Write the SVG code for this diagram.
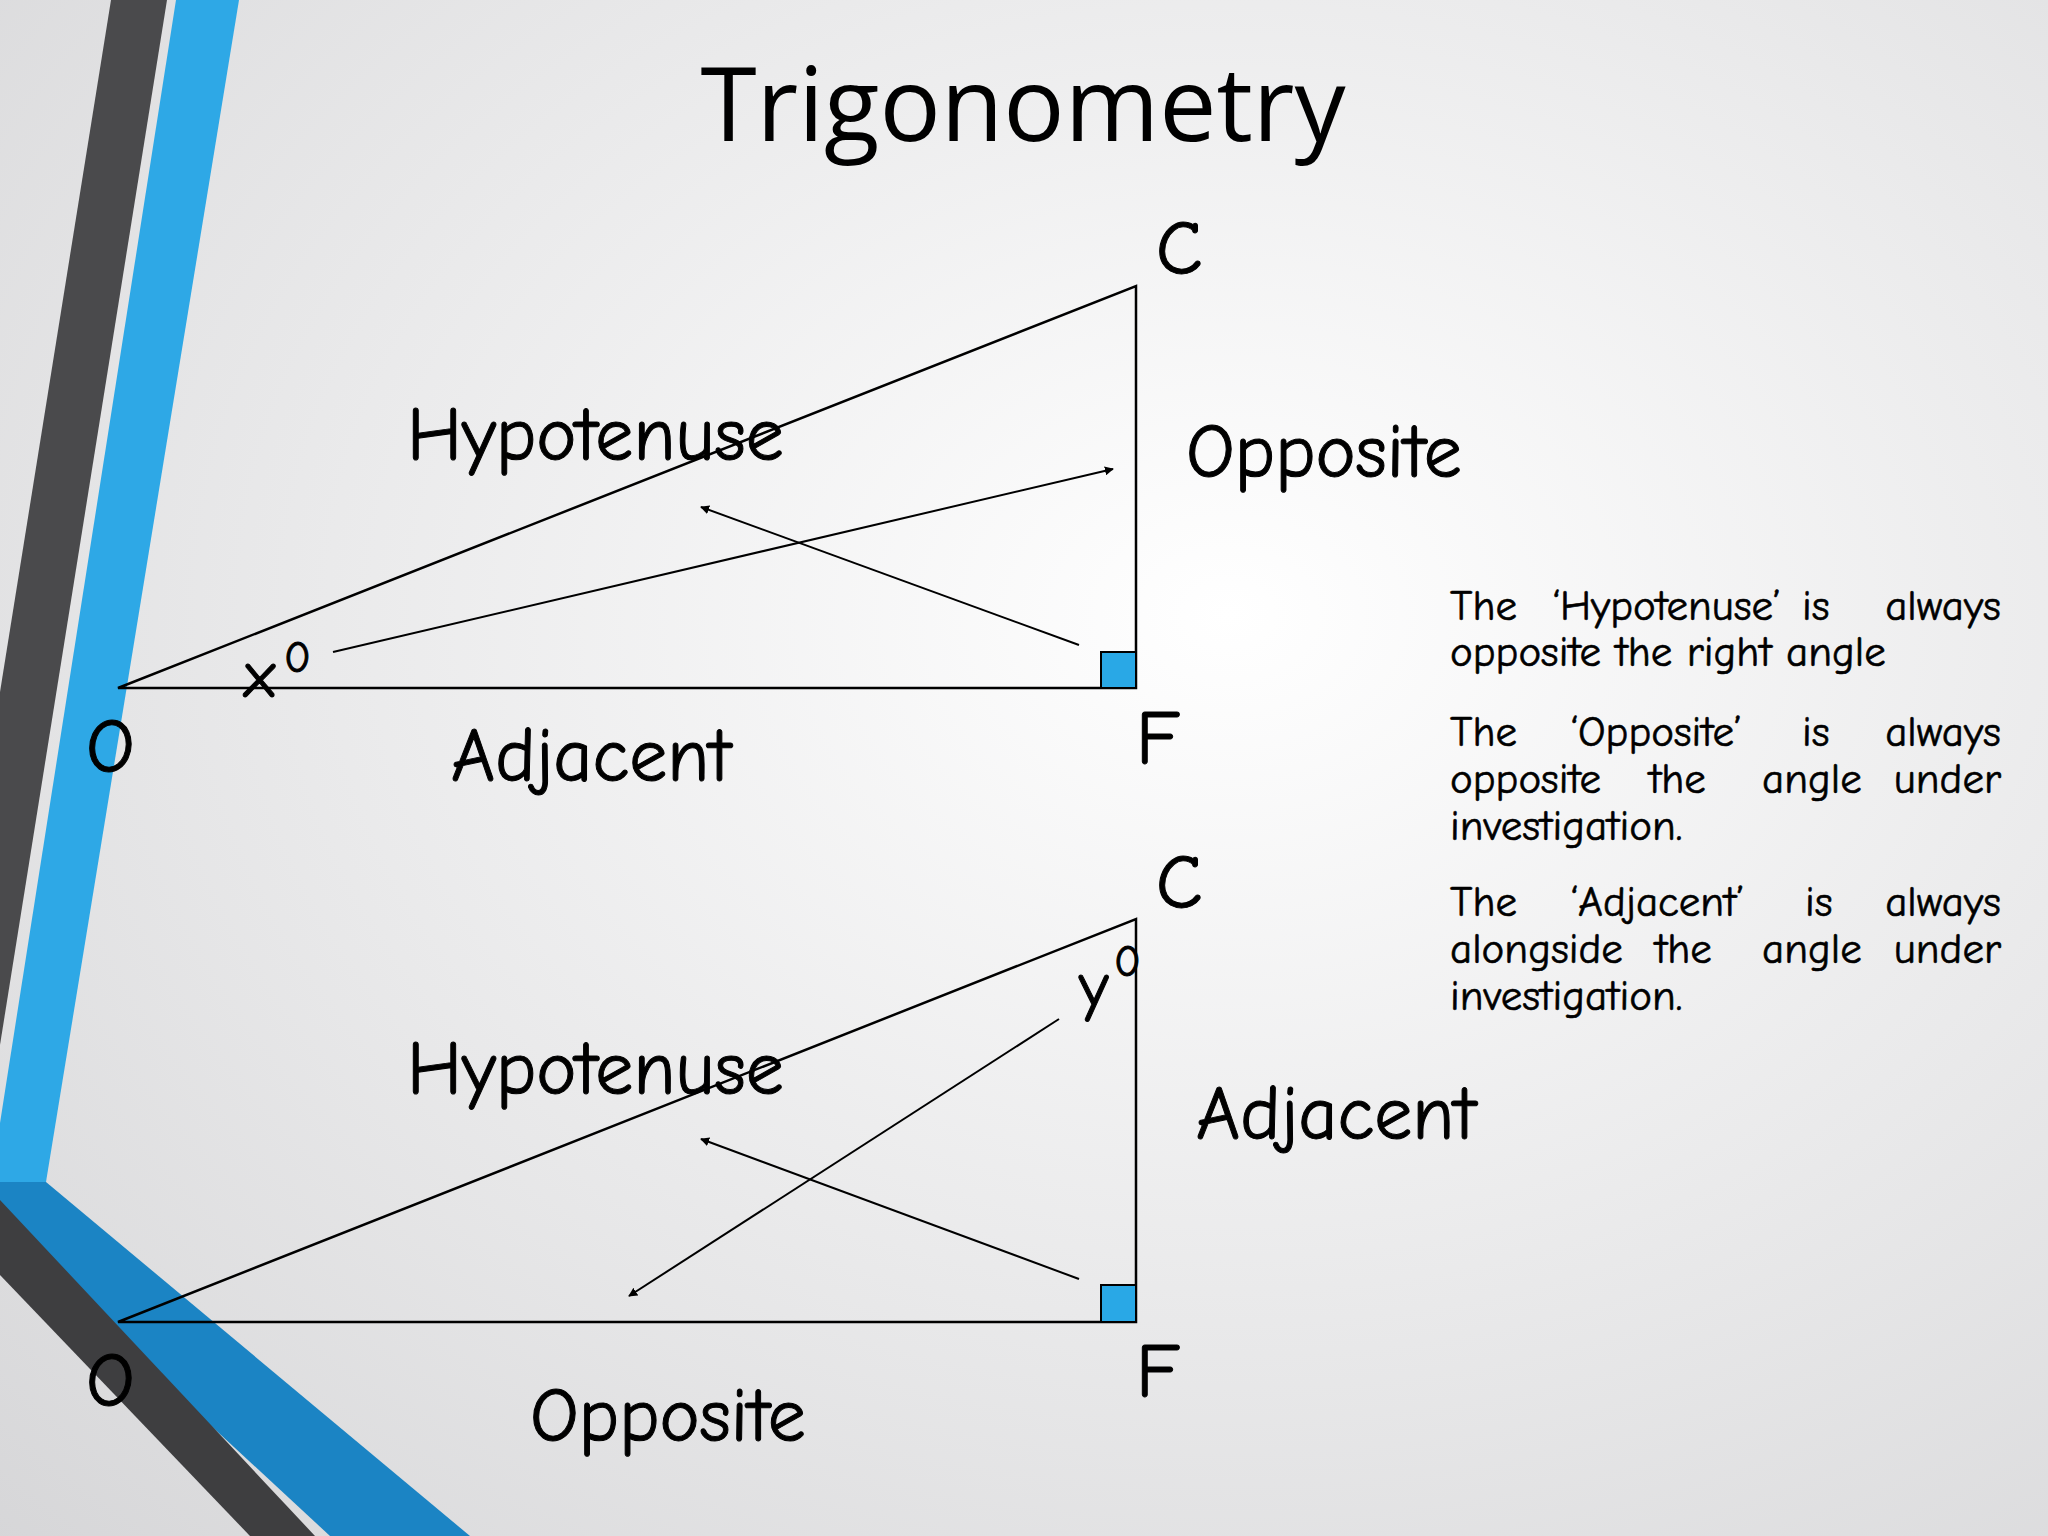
<svg xmlns="http://www.w3.org/2000/svg" width="2048" height="1536" viewBox="0 0 2048 1536">
<defs>
<radialGradient id="bg" cx="0.6" cy="0.4" r="0.9"><stop offset="0" stop-color="#ffffff"/><stop offset="1" stop-color="#d4d4d6"/></radialGradient>
<marker id="ah" viewBox="0 0 10 10" refX="9" refY="5" markerWidth="9" markerHeight="9" orient="auto" markerUnits="userSpaceOnUse"><path d="M0,0 L10,5 L0,10 z" fill="#000"/></marker>
<style>
.l{stroke:#000;stroke-width:2.5;fill:none}
.a{stroke:#000;stroke-width:2;fill:none;marker-end:url(#ah)}
.sq{fill:#29a8e6;stroke:#000;stroke-width:2}
.t{font-family:"Comic Neue","DejaVu Sans",sans-serif;fill:#000;stroke:#000;stroke-width:1}
.b{font-size:76px}
.p{font-size:43px;stroke-width:0.6}
.e{text-anchor:end}
</style>
</defs>
<rect width="2048" height="1536" fill="url(#bg)"/>
<polygon points="111,0 167,0 0,1045 0,692" fill="#4a4a4c"/>
<polygon points="176,0 239,0 46,1182 0,1182 0,1123" fill="#2ea8e6"/>
<polygon points="0,1182 46,1182 470,1536 330,1536 0,1230" fill="#1b84c4"/>
<polygon points="0,1200 0,1275 250,1536 315,1536" fill="#3e3e40"/>
<text x="1023" y="141" text-anchor="middle" font-family="Open Sans, sans-serif" font-size="102" fill="#000">Trigonometry</text>
<g id="tri1">
<path class="l" d="M118,688 L1136,286 L1136,688 Z"/>
<rect class="sq" x="1101" y="652" width="35" height="36"/>
</g>
<g id="tri2">
<path class="l" d="M118,1322 L1136,919 L1136,1322 Z"/>
<rect class="sq" x="1101" y="1285" width="35" height="37"/>
</g>
<g id="connectors">
<line class="a" x1="333" y1="652" x2="1113" y2="469"/>
<line class="a" x1="1079" y1="645" x2="701" y2="507"/>
<line class="a" x1="1059" y1="1019" x2="629" y2="1296"/>
<line class="a" x1="1079" y1="1279" x2="701" y2="1139"/>
</g>
<g id="labels" class="t">
<text x="1156" y="274" class="b">C</text>
<text x="407" y="460" class="b">Hypotenuse</text>
<text x="1186" y="477" class="b">Opposite</text>
<text x="244" y="697" font-size="66">x</text><text x="284" y="672" font-size="44">0</text>
<text x="86" y="772" class="b">O</text>
<text x="451" y="781" class="b">Adjacent</text>
<text x="1136" y="764" class="b">F</text>
<text x="1156" y="908" class="b">C</text>
<text x="1079" y="1008" font-size="66">y</text><text x="1114" y="976" font-size="44">0</text>
<text x="407" y="1094" class="b">Hypotenuse</text>
<text x="1196" y="1139" class="b">Adjacent</text>
<text x="86" y="1406" class="b">O</text>
<text x="530" y="1441" class="b">Opposite</text>
<text x="1136" y="1397" class="b">F</text>
</g>
<g id="notes" class="t p">
<text x="1450" y="620">The</text><text x="1552" y="620">‘Hypotenuse’</text><text x="1802" y="620">is</text><text x="2001" y="620" class="e">always</text>
<text x="1450" y="666">opposite the right angle</text>
<text x="1450" y="746">The</text><text x="1570" y="746">‘Opposite’</text><text x="1802" y="746">is</text><text x="2001" y="746" class="e">always</text>
<text x="1450" y="793">opposite</text><text x="1649" y="793">the</text><text x="1762" y="793">angle</text><text x="2001" y="793" class="e">under</text>
<text x="1450" y="840">investigation.</text>
<text x="1450" y="916">The</text><text x="1570" y="916">‘Adjacent’</text><text x="1805" y="916">is</text><text x="2001" y="916" class="e">always</text>
<text x="1450" y="963">alongside</text><text x="1655" y="963">the</text><text x="1762" y="963">angle</text><text x="2001" y="963" class="e">under</text>
<text x="1450" y="1010">investigation.</text>
</g>
</svg>
